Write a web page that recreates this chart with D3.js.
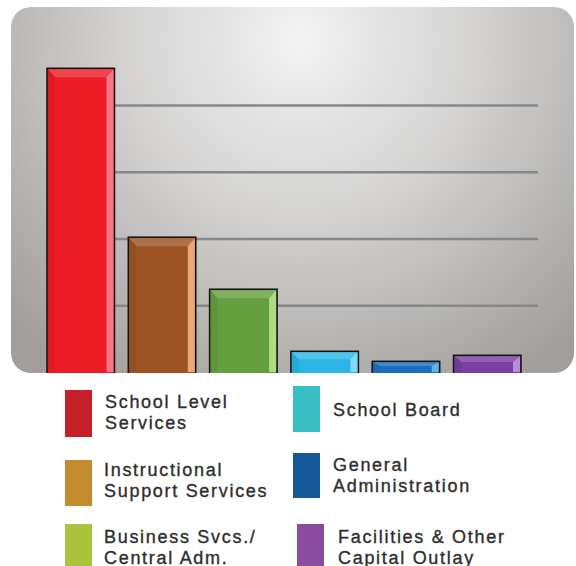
<!DOCTYPE html>
<html>
<head>
<meta charset="utf-8">
<script src="https://cdn.jsdelivr.net/npm/d3@7"></script>
<style>
  html, body { margin: 0; padding: 0; background: #fff; }
  svg { display: block; }
  .legend text { font-family: "Liberation Sans", Arial, sans-serif; font-size: 18px; letter-spacing: 1.7px; fill: #2e2e2e; stroke: #2e2e2e; stroke-width: 0.35px; }
</style>
</head>
<body>
<div id="chart"></div>
<script>
const categories = ['School Level Services', 'Instructional Support Services', 'Business Svcs./ Central Adm.',
  'School Board', 'General Administration', 'Facilities & Other Capital Outlay'];
const values = [45.5, 20.2, 12.4, 3.1, 1.6, 2.5];
const gridTicks = [10, 20, 30, 40];
const barColors = ['#ec1d25', '#9c5424', '#63a03d', '#2bb5e6', '#1b6fbe', '#7b3fa3'];
const barLights = ['#f48a9a', '#f5b98a', '#bfe392', '#8ee0f7', '#6fc2f0', '#c79be0'];
const legendLines = [['School Level', 'Services'], ['Instructional', 'Support Services'], ['Business Svcs./', 'Central Adm.'],
  ['School Board'], ['General', 'Administration'], ['Facilities & Other', 'Capital Outlay']];
const legendColors = ['#c5202a', '#c58b2f', '#a9c43a', '#39bfc3', '#15599a', '#8a4b9f'];

const width = 576, height = 566;
const panel = { x: 11, y: 7, w: 563, h: 366, r: 20 };

const svg = d3.select('#chart').append('svg')
  .attr('width', width)
  .attr('height', height);

const defs = svg.append('defs');
const bg = defs.append('radialGradient')
  .attr('id', 'panelBg')
  .attr('gradientUnits', 'userSpaceOnUse')
  .attr('cx', 300).attr('cy', 40).attr('r', 400);
bg.append('stop').attr('offset', '0%').attr('stop-color', '#f3f3f3');
bg.append('stop').attr('offset', '45%').attr('stop-color', '#d3d2d1');
bg.append('stop').attr('offset', '100%').attr('stop-color', '#a19e9b');

defs.append('clipPath').attr('id', 'panelClip')
  .append('rect')
  .attr('x', panel.x).attr('y', panel.y)
  .attr('width', panel.w).attr('height', panel.h)
  .attr('rx', panel.r);

svg.append('rect')
  .attr('x', panel.x).attr('y', panel.y)
  .attr('width', panel.w).attr('height', panel.h)
  .attr('rx', panel.r)
  .attr('fill', 'url(#panelBg)');

const x = d3.scaleBand()
  .domain(categories)
  .range([47, 521])
  .paddingInner(0.17)
  .paddingOuter(0);

const y = d3.scaleLinear()
  .domain([0, 40])
  .range([372, 105]);

const body = svg.append('g').attr('clip-path', 'url(#panelClip)');

// grid lines
const gridLeft = x(categories[0]) + x.bandwidth() * 0.8;
body.append('g')
  .attr('class', 'grid')
  .attr('transform', `translate(${gridLeft},0)`)
  .call(d3.axisRight(y).tickValues(gridTicks).tickSize(538 - gridLeft).tickFormat(''))
  .call(g => g.select('.domain').remove())
  .call(g => g.selectAll('.tick line').attr('stroke', '#878787').attr('stroke-width', 2.5));

// bars with a bevel look
const bars = body.selectAll('g.bar')
  .data(values)
  .enter()
  .append('g')
  .attr('class', 'bar');

const bw = x.bandwidth();
bars.append('rect')
  .attr('x', (d, i) => x(categories[i]))
  .attr('y', d => y(d))
  .attr('width', bw)
  .attr('height', d => y(0) - y(d) + 4)
  .attr('fill', (d, i) => barColors[i])
  .attr('stroke', '#111')
  .attr('stroke-width', 1.5);

// top bevel
bars.append('path')
  .attr('d', (d, i) => {
    const x0 = x(categories[i]) + 1, y0 = y(d) + 1, x1 = x0 + bw - 2;
    const t = Math.min(8, (y(0) - y(d)) / 3);
    return `M${x0},${y0}L${x1},${y0}L${x1 - 7},${y0 + t}L${x0 + 7},${y0 + t}Z`;
  })
  .attr('fill', '#fff')
  .attr('opacity', 0.18);

// right highlight
bars.append('path')
  .attr('d', (d, i) => {
    const x1 = x(categories[i]) + bw - 1, y0 = y(d) + 1;
    const t = Math.min(8, (y(0) - y(d)) / 3);
    return `M${x1},${y0}L${x1},${y(0)}L${x1 - 7},${y(0)}L${x1 - 7},${y0 + t}Z`;
  })
  .attr('fill', (d, i) => barLights[i])
  .attr('opacity', 0.85);

// left shade
bars.append('path')
  .attr('d', (d, i) => {
    const x0 = x(categories[i]) + 1, y0 = y(d) + 1;
    const t = Math.min(8, (y(0) - y(d)) / 3);
    return `M${x0},${y0}L${x0 + 7},${y0 + t}L${x0 + 7},${y(0)}L${x0},${y(0)}Z`;
  })
  .attr('fill', '#000')
  .attr('opacity', 0.06);

// legend
const legendPos = [
  { sx: 65, sy: 390, sh: 47, tx: 105, ty: 408 },
  { sx: 65, sy: 460, sh: 46, tx: 104, ty: 476 },
  { sx: 65, sy: 524, sh: 50, tx: 104, ty: 543 },
  { sx: 293, sy: 386, sh: 46, tx: 333, ty: 416 },
  { sx: 293, sy: 453, sh: 45, tx: 333, ty: 471 },
  { sx: 297, sy: 524, sh: 50, tx: 338, ty: 543 }
];

const legend = svg.append('g').attr('class', 'legend');
const items = legend.selectAll('g.item')
  .data(legendLines)
  .enter()
  .append('g')
  .attr('class', 'item');

items.append('rect')
  .attr('x', (d, i) => legendPos[i].sx)
  .attr('y', (d, i) => legendPos[i].sy)
  .attr('width', 27)
  .attr('height', (d, i) => legendPos[i].sh)
  .attr('fill', (d, i) => legendColors[i]);

items.append('text')
  .attr('x', (d, i) => legendPos[i].tx)
  .attr('y', (d, i) => legendPos[i].ty)
  .selectAll('tspan')
  .data(d => d)
  .enter()
  .append('tspan')
  .attr('x', function () { return d3.select(this.parentNode).attr('x'); })
  .attr('dy', (d, j) => j === 0 ? 0 : 20.5)
  .text(d => d);
</script>
</body>
</html>
